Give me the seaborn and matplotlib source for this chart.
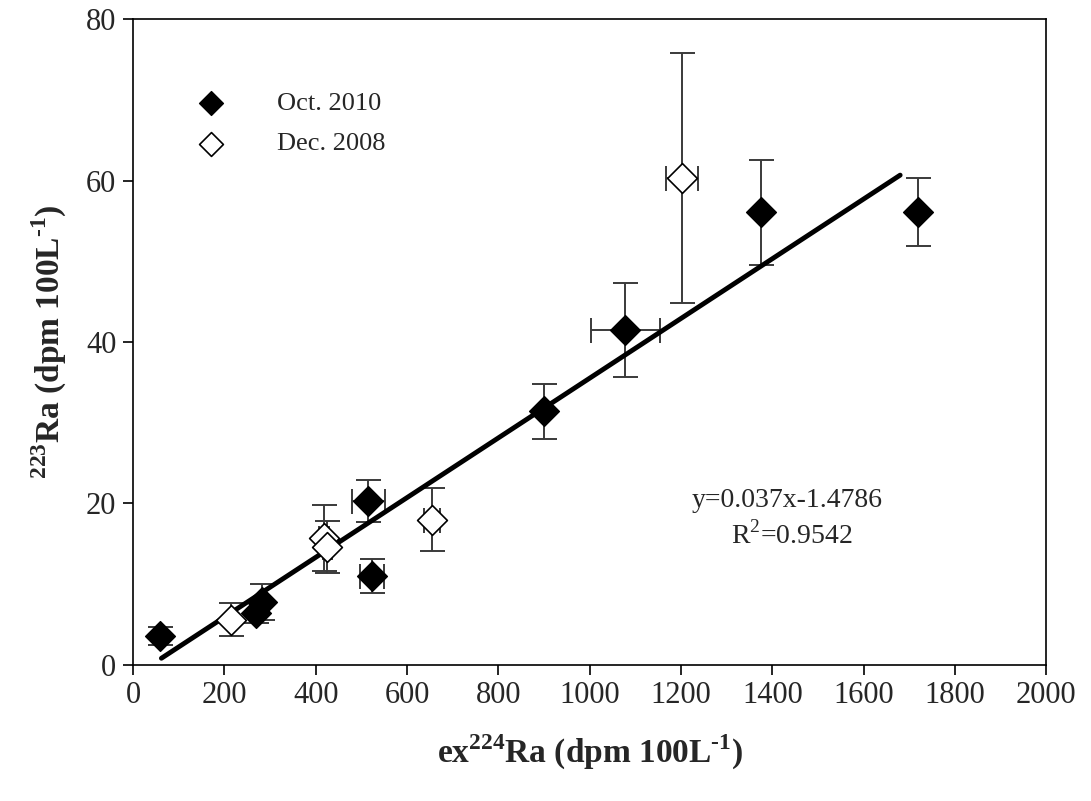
import numpy as np
import pandas as pd
import matplotlib
matplotlib.use("Agg")
import matplotlib.pyplot as plt
import seaborn as sns

# values
oct_x = [59, 270, 282, 515, 523, 901, 1078, 1376, 1720]
oct_y = [3.6, 6.4, 7.8, 20.3, 11.0, 31.4, 41.5, 56.1, 56.1]
oct_xerr = [0, 0, 0, 36, 27, 0, 75, 0, 0]
oct_yerr = [1.1, 1.2, 2.2, 2.6, 2.15, 3.4, 5.8, 6.5, 4.2]

dec_x = [215, 418, 425, 655, 1203]
dec_y = [5.6, 15.7, 14.6, 18.0, 60.3]
dec_xerr = [0, 10, 10, 18, 35]
dec_yerr = [2.0, 4.1, 3.2, 3.9, 15.5]

slope, intercept, r2 = 0.037, -1.4786, 0.9542
fit_range = [62, 1680]

x_ticks = list(range(0, 2001, 200))
y_ticks = list(range(0, 81, 20))

sns.set_style("ticks")
plt.rcParams['font.family'] = ['Liberation Serif', 'DejaVu Serif']
plt.rcParams['mathtext.fontset'] = 'custom'
plt.rcParams['mathtext.rm'] = 'Liberation Serif'
plt.rcParams['mathtext.bf'] = 'Liberation Serif:bold'

fig = plt.figure(figsize=(10.91, 8.01), dpi=100)
ax = fig.add_axes([0.122, 0.170, 0.837, 0.806])

err_kw = dict(fmt='none', ecolor='#3a3a3a', elinewidth=1.4, capsize=9, capthick=1.4, zorder=2)
ax.errorbar(oct_x, oct_y, xerr=oct_xerr, yerr=oct_yerr, **err_kw)
ax.errorbar(dec_x, dec_y, xerr=dec_xerr, yerr=dec_yerr, **err_kw)

# regression line
fx = np.array(fit_range)
fit = pd.DataFrame({'x': fx, 'y': slope * fx + intercept})
sns.lineplot(data=fit, x='x', y='y', ax=ax, color='black', linewidth=3.5, zorder=3)

oct_df = pd.DataFrame({'x': oct_x, 'y': oct_y})
dec_df = pd.DataFrame({'x': dec_x, 'y': dec_y})
sns.scatterplot(data=oct_df, x='x', y='y', ax=ax, marker='D', s=230, color='black',
                edgecolor='black', linewidth=1, zorder=4, label='Oct. 2010')
sns.scatterplot(data=dec_df, x='x', y='y', ax=ax, marker='D', s=230, color='white',
                edgecolor='black', linewidth=1.2, zorder=4, label='Dec. 2008')

ax.set_xlim(0, 2000)
ax.set_ylim(0, 80)
ax.set_xticks(x_ticks)
ax.set_yticks(y_ticks)
ax.tick_params(direction='out', length=7, width=1.2, labelsize=22, color='black', pad=5)
for sp in ax.spines.values():
    sp.set_linewidth(1.2)
    sp.set_color('black')

ax.set_xlabel('ex$^{\\mathbf{224}}$Ra (dpm 100L$^{\\mathbf{\u2010 1}}$)', fontsize=24,
              fontweight='bold', labelpad=16)
ax.set_ylabel('$^{\\mathbf{223}}$Ra (dpm 100L$^{\\mathbf{\u2010 1}}$)', fontsize=24,
              fontweight='bold', labelpad=12)

ax.text(1432, 20.4, f'y={slope}x{intercept}', fontsize=20, ha='center', va='center')
ax.text(1442, 16.1, f'R$^2$={r2}', fontsize=20, ha='center', va='center')

leg = ax.legend(loc='upper left', bbox_to_anchor=(0.03, 0.925), frameon=False,
                fontsize=19, handletextpad=1.5, labelspacing=0.65, markerscale=0.8)

fig.savefig('out.png', dpi=100)
